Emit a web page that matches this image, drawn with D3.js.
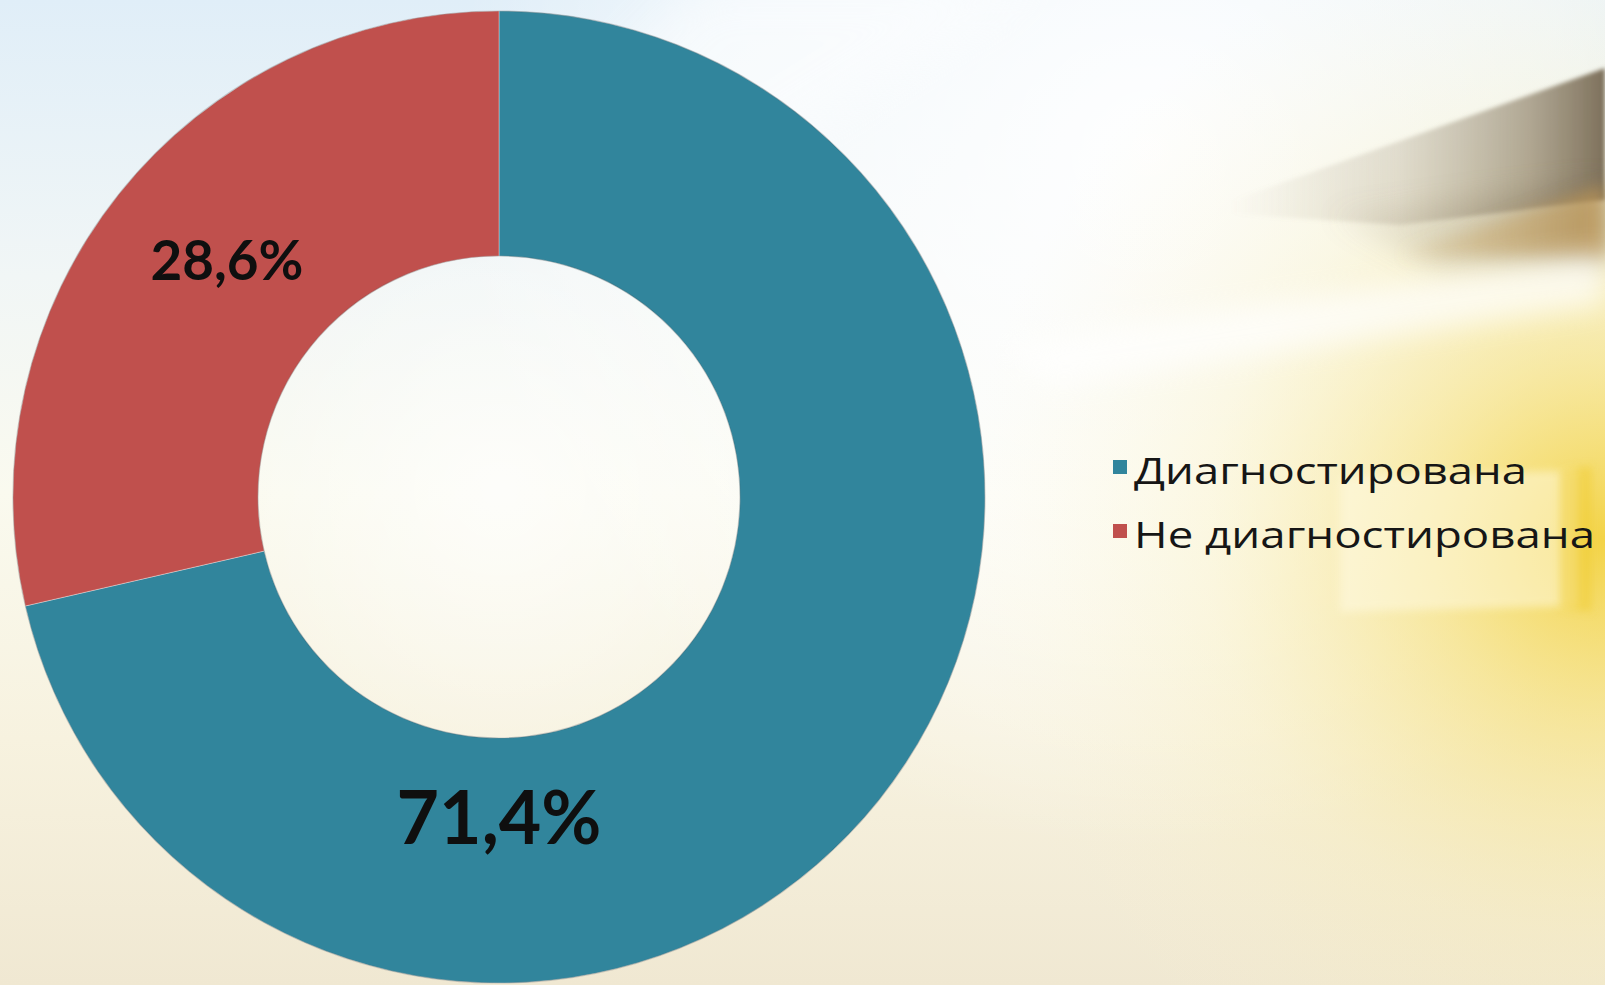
<!DOCTYPE html>
<html>
<head>
<meta charset="utf-8">
<script src="https://cdn.jsdelivr.net/npm/d3@7"></script>
<style>
  html, body { margin: 0; padding: 0; overflow: hidden; background: #f6f3e6; }
  svg { display: block; }
</style>
</head>
<body>
<svg id="chart" width="1605" height="985"></svg>
<script>
// Share of cases, per cent
const categories = ["Диагностирована", "Не диагностирована"];
const values = [71.4, 28.6];
const colors = ["#31859C", "#C0504D"];

const W = 1605, H = 985;
const svg = d3.select("#chart");
const defs = svg.append("defs");

// ---------- slide background ----------
function linGrad(id, x1, y1, x2, y2, stops, units) {
  const g = defs.append("linearGradient").attr("id", id)
    .attr("x1", x1).attr("y1", y1).attr("x2", x2).attr("y2", y2);
  if (units) g.attr("gradientUnits", units);
  stops.forEach(s => g.append("stop").attr("offset", s[0])
    .attr("stop-color", s[1]).attr("stop-opacity", s[2] == null ? 1 : s[2]));
  return g;
}
function radGrad(id, cx, cy, r, stops) {
  const g = defs.append("radialGradient").attr("id", id)
    .attr("gradientUnits", "userSpaceOnUse")
    .attr("cx", cx).attr("cy", cy).attr("r", r);
  stops.forEach(s => g.append("stop").attr("offset", s[0])
    .attr("stop-color", s[1]).attr("stop-opacity", s[2] == null ? 1 : s[2]));
  return g;
}
function blur(id, sd) {
  defs.append("filter").attr("id", id)
    .attr("x", "-30%").attr("y", "-30%").attr("width", "160%").attr("height", "160%")
    .append("feGaussianBlur").attr("stdDeviation", sd);
}

linGrad("bgBase", 0, 0, 0, 1, [
  [0, "#e0eef8"], [0.28, "#f1f6f6"], [0.5, "#fafaef"], [0.75, "#f7f2df"], [1, "#f0e8d2"]
]);
radGrad("bgWhite", 1150, 150, 700, [[0, "#ffffff", 0.95], [0.6, "#ffffff", 0.55], [1, "#ffffff", 0]]);
radGrad("bgCenter", 500, 490, 300, [[0, "#ffffff", 0.7], [1, "#ffffff", 0]]);
radGrad("bgGlow", 1605, 540, 640, [[0, "#f2cf35", 0.9], [0.28, "#f5dc6a", 0.6], [0.62, "#f8eaa8", 0.28], [1, "#fbf3d0", 0]]);
linGrad("streak", 1230, 0, 1605, 0, [[0, "#a09480", 0], [0.45, "#a09480", 0.28], [0.8, "#8a7c64", 0.65], [1, "#73654f", 0.92]], "userSpaceOnUse");
linGrad("warm", 1350, 0, 1605, 0, [[0, "#d2ad6a", 0], [1, "#c49a55", 0.7]], "userSpaceOnUse");
blur("b2", 2); blur("b4", 4); blur("b8", 8); blur("b14", 14); blur("b25", 25);

const bg = svg.append("g");
bg.append("rect").attr("width", W).attr("height", H).attr("fill", "url(#bgBase)");
bg.append("rect").attr("width", W).attr("height", H).attr("fill", "url(#bgWhite)");
bg.append("rect").attr("width", W).attr("height", H).attr("fill", "url(#bgCenter)");
bg.append("rect").attr("width", W).attr("height", H).attr("fill", "url(#bgGlow)");

const poly = pts => d3.line()(pts) + "Z";
// dark streak in the upper right: crisp upper edge, soft lower edge
bg.append("path").attr("d", poly([[1200, 212], [1605, 68], [1605, 200], [1400, 225]]))
  .attr("fill", "url(#streak)").attr("filter", "url(#b2)");
bg.append("path").attr("d", poly([[1330, 215], [1605, 185], [1605, 262], [1440, 272]]))
  .attr("fill", "url(#streak)").attr("opacity", 0.75).attr("filter", "url(#b14)");
bg.append("path").attr("d", poly([[1400, 255], [1605, 185], [1605, 258]]))
  .attr("fill", "url(#warm)").attr("filter", "url(#b8)");
// light band below the streak
bg.append("path").attr("d", poly([[1000, 345], [1605, 252], [1605, 305], [1050, 385]]))
  .attr("fill", "#ffffff").attr("opacity", 0.7).attr("filter", "url(#b14)");
// pale frame with its bright right edge
bg.append("path").attr("d", poly([[1340, 478], [1578, 470], [1578, 606], [1340, 612]]))
  .attr("fill", "#fffbe6").attr("opacity", 0.5).attr("filter", "url(#b4)");
bg.append("path").attr("d", poly([[1560, 470], [1592, 466], [1592, 612], [1560, 608]]))
  .attr("fill", "#f0cc30").attr("opacity", 0.5).attr("filter", "url(#b4)");
// soft light beam at the top
bg.append("path").attr("d", poly([[700, -20], [1050, -20], [760, 160], [520, 160]]))
  .attr("fill", "#ffffff").attr("opacity", 0.45).attr("filter", "url(#b25)");

// ---------- doughnut ----------
const cx = 499, cy = 497;
const outerR = 486, innerR = 241;

const data = categories.map((c, i) => ({ category: c, value: values[i], color: colors[i] }));
const pie = d3.pie().sort(null).value(d => d.value);
const arcs = pie(data);
const arc = d3.arc().innerRadius(innerR).outerRadius(outerR);

const ruFmt = d3.formatLocale({ decimal: ",", thousands: "\u00a0", grouping: [3], currency: ["", ""] }).format(".1f");
const labelText = d => ruFmt(d.data.value) + "%";

const g = svg.append("g").attr("transform", `translate(${cx},${cy})`);
g.selectAll("path.slice").data(arcs).join("path")
  .attr("class", "slice")
  .attr("d", arc)
  .attr("fill", d => d.data.color)
  .attr("stroke", "rgba(255,255,255,0.35)")
  .attr("stroke-width", 1);
// thin edge round the ring
[outerR, innerR].forEach(r => g.append("circle").attr("r", r)
  .attr("fill", "none").attr("stroke", "rgba(70,70,70,0.25)").attr("stroke-width", 1.2));

// data labels: larger slice label sits at the bottom of the ring
const labelSize = [74, 56];
const labelWidth = [205, 153];
const labelPos = d => {
  if (d.index === 0) return d3.pointRadial(Math.PI, 321);
  const mid = (d.startAngle + d.endAngle) / 2 + 0.045;
  return d3.pointRadial(mid, 361);
};
g.selectAll("text.val").data(arcs).join("text")
  .attr("class", "val")
  .attr("x", d => labelPos(d)[0])
  .attr("y", d => labelPos(d)[1] + labelSize[d.index] * 0.357)
  .attr("text-anchor", "middle")
  .attr("font-family", "Lato, 'Open Sans', sans-serif")
  .attr("font-weight", 700)
  .attr("font-size", d => labelSize[d.index])
  .attr("textLength", d => labelWidth[d.index])
  .attr("lengthAdjust", "spacingAndGlyphs")
  .attr("fill", "#0f0f0f")
  .text(labelText);

// ---------- legend ----------
const legendY = d3.scalePoint().domain(categories).range([484, 548]);
const legendLen = [393, 461];
const lg = svg.append("g");
const items = lg.selectAll("g").data(data).join("g")
  .attr("transform", d => `translate(1113,${legendY(d.category)})`);
items.append("rect")
  .attr("x", 0).attr("y", -24).attr("width", 14).attr("height", 14)
  .attr("fill", d => d.color);
items.append("text")
  .attr("x", 21).attr("y", 0)
  .attr("font-family", "'Open Sans', 'Noto Sans', sans-serif")
  .attr("font-size", 36)
  .attr("fill", "#161616")
  .attr("textLength", (d, i) => legendLen[i])
  .attr("lengthAdjust", "spacingAndGlyphs")
  .text(d => d.category);
</script>
</body>
</html>
